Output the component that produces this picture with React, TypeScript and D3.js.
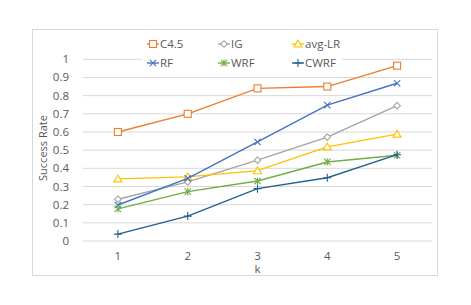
import React from 'react';
import * as d3 from 'd3';

// values
const ks = ['1', '2', '3', '4', '5'];
const yTicks = [0, 0.1, 0.2, 0.3, 0.4, 0.5, 0.6, 0.7, 0.8, 0.9, 1];
const c45 = [0.6, 0.7, 0.84, 0.85, 0.965];
const ig = [0.23, 0.325, 0.445, 0.572, 0.745];
const avgLR = [0.342, 0.353, 0.387, 0.518, 0.588];
const rf = [0.198, 0.345, 0.545, 0.748, 0.868];
const wrf = [0.177, 0.272, 0.33, 0.435, 0.472];
const cwrf = [0.038, 0.137, 0.288, 0.348, 0.475];

const series = [
  { name: 'C4.5', values: c45, color: '#ED7D31', marker: 'square' },
  { name: 'IG', values: ig, color: '#A5A5A5', marker: 'diamond' },
  { name: 'avg-LR', values: avgLR, color: '#FFC000', marker: 'triangle' },
  { name: 'RF', values: rf, color: '#4472C4', marker: 'x' },
  { name: 'WRF', values: wrf, color: '#70AD47', marker: 'star' },
  { name: 'CWRF', values: cwrf, color: '#255E91', marker: 'plus' },
];

const W = 471;
const H = 305;
const font = '"Open Sans", sans-serif';
const textColor = '#595959';

const Marker = ({ type, x, y, color }: { type: string; x: number; y: number; color: string }) => {
  const sw = 1.1;
  if (type === 'square')
    return <rect x={x - 3.5} y={y - 3.5} width={7} height={7} fill="#fff" stroke={color} strokeWidth={sw} />;
  if (type === 'diamond')
    return (
      <path d={`M${x},${y - 3.3}L${x + 3.3},${y}L${x},${y + 3.3}L${x - 3.3},${y}Z`} fill="#fff" stroke={color} strokeWidth={sw} />
    );
  if (type === 'triangle')
    return (
      <path d={`M${x},${y - 3.8}L${x + 4},${y + 3}L${x - 4},${y + 3}Z`} fill="#fff" stroke={color} strokeWidth={sw} />
    );
  if (type === 'x')
    return (
      <path d={`M${x - 3.2},${y - 3.2}L${x + 3.2},${y + 3.2}M${x + 3.2},${y - 3.2}L${x - 3.2},${y + 3.2}`} stroke={color} strokeWidth={sw} />
    );
  if (type === 'star')
    return (
      <path
        d={`M${x - 3.2},${y - 3.2}L${x + 3.2},${y + 3.2}M${x + 3.2},${y - 3.2}L${x - 3.2},${y + 3.2}M${x},${y - 3.6}L${x},${y + 3.6}`}
        stroke={color}
        strokeWidth={sw}
      />
    );
  return <path d={`M${x - 4},${y}L${x + 4},${y}M${x},${y - 4}L${x},${y + 4}`} stroke={color} strokeWidth={sw} />;
};

export default function App() {
  const x = d3.scaleBand().domain(ks).range([83, 432]);
  const y = d3.scaleLinear().domain([0, 1]).range([241, 59.3]);
  const cx = (k: string) => (x(k) as number) + x.bandwidth() / 2;

  const line = d3
    .line<number>()
    .x((_, i) => cx(ks[i]))
    .y((d) => y(d));

  const legendCols = [147, 218, 292];
  const legendRows = [44, 63];

  return (
    <svg width={W} height={H} style={{ position: 'absolute', left: 0, top: 0 }}>
      <rect x={0} y={0} width={W} height={H} fill="#fff" />
      <rect x={32.5} y={29.5} width={405} height={246} fill="#fff" stroke="#D9D9D9" strokeWidth={1} />

      {yTicks.map((t) => (
        <g key={t}>
          <line x1={83} x2={432} y1={y(t)} y2={y(t)} stroke="#D9D9D9" strokeWidth={1} />
          <text x={69} y={y(t)} dy="0.35em" textAnchor="end" fontFamily={font} fontSize={11.5} fill={textColor}>
            {t}
          </text>
        </g>
      ))}

      {ks.map((k) => (
        <text key={k} x={cx(k)} y={256} dy="0.35em" textAnchor="middle" fontFamily={font} fontSize={11.5} fill={textColor}>
          {k}
        </text>
      ))}
      <text x={cx('3')} y={269} dy="0.35em" textAnchor="middle" fontFamily={font} fontSize={11.5} fill={textColor}>
        k
      </text>
      <text
        transform={`translate(43,148) rotate(-90)`}
        textAnchor="middle"
        dy="0.35em"
        fontFamily={font}
        fontSize={11}
        fill={textColor}
      >
        Success Rate
      </text>

      {series.map((s) => (
        <g key={s.name}>
          <path d={line(s.values) || ''} fill="none" stroke={s.color} strokeWidth={1.4} />
          {s.values.map((v, i) => (
            <Marker key={i} type={s.marker} x={cx(ks[i])} y={y(v)} color={s.color} />
          ))}
        </g>
      ))}

      <rect x={142} y={36} width={200} height={34} fill="#fff" />
      {series.map((s, i) => {
        const lx = legendCols[i % 3];
        const ly = legendRows[Math.floor(i / 3)];
        return (
          <g key={s.name}>
            <line x1={lx} x2={lx + 12} y1={ly} y2={ly} stroke={s.color} strokeWidth={1.4} />
            <Marker type={s.marker} x={lx + 6} y={ly} color={s.color} />
            <text x={lx + 13} y={ly} dy="0.35em" fontFamily={font} fontSize={11.5} fill={textColor}>
              {s.name}
            </text>
          </g>
        );
      })}
    </svg>
  );
}
